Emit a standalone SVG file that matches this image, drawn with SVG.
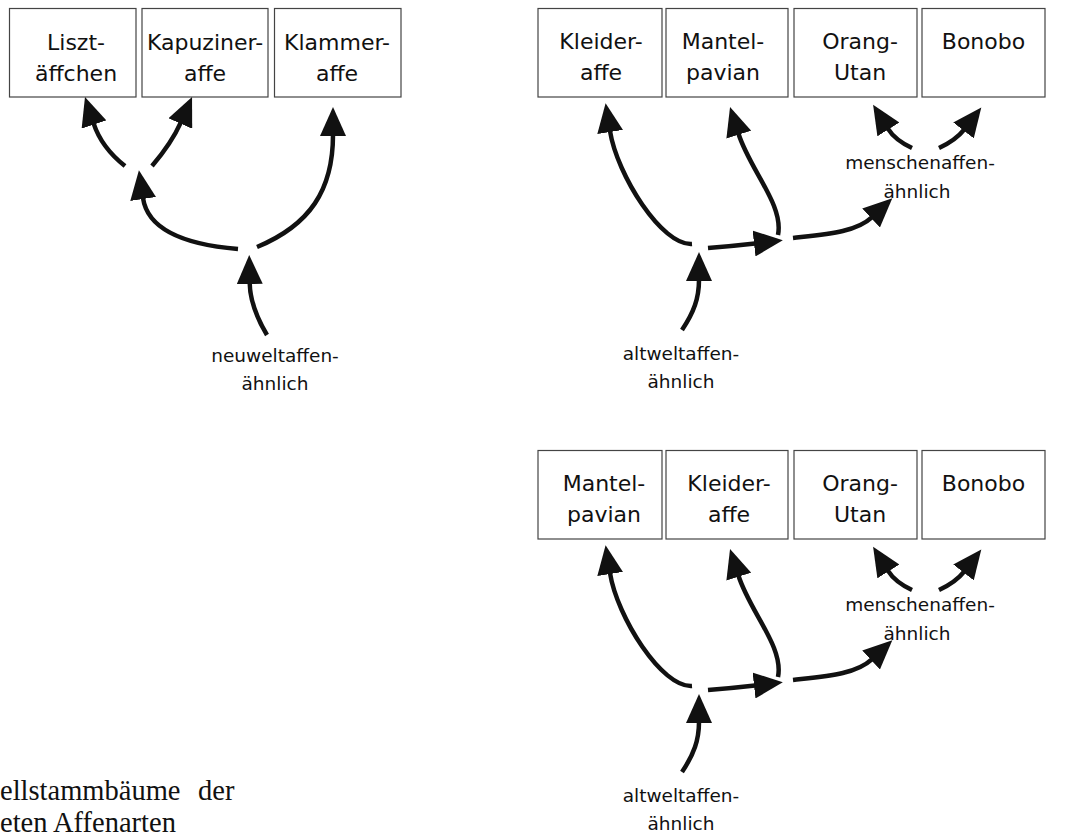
<svg xmlns="http://www.w3.org/2000/svg" width="1068" height="837" viewBox="0 0 1068 837">
<style>
.box{fill:#fff;stroke:#444;stroke-width:1.2}
.nt{font-family:"Comic Sans MS","DejaVu Sans",sans-serif;font-size:22px;fill:#111;text-anchor:middle}
.lb{font-family:"Comic Sans MS","DejaVu Sans",sans-serif;font-size:18.5px;fill:#111;text-anchor:middle}
.cap{font-family:"Liberation Serif","Times New Roman",serif;font-size:28.5px;fill:#111}
.cn{fill:none;stroke:#111;stroke-width:4.5;marker-end:url(#ah)}
</style>
<defs>
<marker id="ah" markerUnits="userSpaceOnUse" markerWidth="30" markerHeight="26" viewBox="0 0 30 26" refX="1" refY="13" orient="auto">
<path d="M0,0 L29,13 L0,26 z" fill="#111"/>
</marker>
</defs>
<rect width="1068" height="837" fill="#fff"/>

<!-- Tree 1: Neuweltaffen -->
<g id="n_liszt"><rect class="box" x="9.5" y="8.5" width="126.5" height="88.5"/><text class="nt" x="76" y="50">Liszt-</text><text class="nt" x="76" y="81">äffchen</text></g>
<g id="n_kapuziner"><rect class="box" x="142" y="8.5" width="126" height="88.5"/><text class="nt" x="205" y="50">Kapuziner-</text><text class="nt" x="205" y="81">affe</text></g>
<g id="n_klammer"><rect class="box" x="274.5" y="8.5" width="126.5" height="88.5"/><text class="nt" x="337" y="50">Klammer-</text><text class="nt" x="337" y="81">affe</text></g>
<g id="l_neuwelt"><text class="lb" x="275" y="362">neuweltaffen-</text><text class="lb" x="275" y="390">ähnlich</text></g>

<!-- Tree 2 -->
<g id="n_kleider1"><rect class="box" x="538" y="8.5" width="124" height="88.5"/><text class="nt" x="601" y="49">Kleider-</text><text class="nt" x="601" y="80">affe</text></g>
<g id="n_mantel1"><rect class="box" x="666" y="8.5" width="122" height="88.5"/><text class="nt" x="723" y="49">Mantel-</text><text class="nt" x="723" y="80">pavian</text></g>
<g id="n_orang1"><rect class="box" x="794" y="8.5" width="123" height="88.5"/><text class="nt" x="860" y="49">Orang-</text><text class="nt" x="860" y="80">Utan</text></g>
<g id="n_bonobo1"><rect class="box" x="922" y="8.5" width="123" height="88.5"/><text class="nt" x="983.5" y="49">Bonobo</text></g>
<g id="l_menschen1"><text class="lb" x="920" y="169">menschenaffen-</text><text class="lb" x="917" y="198">ähnlich</text></g>
<g id="l_altwelt1"><text class="lb" x="681" y="360">altweltaffen-</text><text class="lb" x="681" y="388">ähnlich</text></g>

<!-- Tree 3 -->
<g id="n_mantel2"><rect class="box" x="538" y="450.5" width="124" height="88.5"/><text class="nt" x="604" y="491">Mantel-</text><text class="nt" x="604" y="522">pavian</text></g>
<g id="n_kleider2"><rect class="box" x="666" y="450.5" width="122" height="88.5"/><text class="nt" x="729" y="491">Kleider-</text><text class="nt" x="729" y="522">affe</text></g>
<g id="n_orang2"><rect class="box" x="794" y="450.5" width="123" height="88.5"/><text class="nt" x="860" y="491">Orang-</text><text class="nt" x="860" y="522">Utan</text></g>
<g id="n_bonobo2"><rect class="box" x="922" y="450.5" width="123" height="88.5"/><text class="nt" x="983.5" y="491">Bonobo</text></g>
<g id="l_menschen2"><text class="lb" x="920" y="611">menschenaffen-</text><text class="lb" x="917" y="640">ähnlich</text></g>
<g id="l_altwelt2"><text class="lb" x="681" y="802">altweltaffen-</text><text class="lb" x="681" y="830">ähnlich</text></g>

<!-- Caption -->
<g id="caption"><text class="cap" x="0" y="800">ellstammbäume<tspan x="198">der</tspan></text><text class="cap" x="0" y="832">eten Affenarten</text></g>

<g id="connectors">
<g id="c_tree1">
<path class="cn" d="M125,166 Q101.5,147.4 93.7,123.6"/>
<path class="cn" d="M152,166 Q171.8,142.7 180.7,122.6"/>
<path class="cn" d="M257,247 C310,225 333,190 333,135"/>
<path class="cn" d="M238,249 C190,245 148,232 143,198"/>
<path class="cn" d="M267,335 C255,315 250,300 249.7,283"/>
</g>
<g id="c_tree2">
<path class="cn" d="M692,244 C662,246 617,175 610,131"/>
<path class="cn" d="M778,235 C784,205 750,170 738.5,133.7"/>
<path class="cn" d="M708,248 Q732,246 755,243.4"/>
<path class="cn" d="M793,238 C828,234 856,232 871.8,217.3"/>
<path class="cn" d="M912,148 Q895,140 887.9,128.6"/>
<path class="cn" d="M939,148 Q956,140 964.1,129.6"/>
<path class="cn" d="M682,330 C694,312 699,298 699,280"/>
</g>
<g id="c_tree3" transform="translate(0,442)">
<path class="cn" d="M692,244 C662,246 617,175 610,131"/>
<path class="cn" d="M778,235 C784,205 750,170 738.5,133.7"/>
<path class="cn" d="M708,248 Q732,246 755,243.4"/>
<path class="cn" d="M793,238 C828,234 856,232 871.8,217.3"/>
<path class="cn" d="M912,148 Q895,140 887.9,128.6"/>
<path class="cn" d="M939,148 Q956,140 964.1,129.6"/>
<path class="cn" d="M682,330 C694,312 699,298 699,280"/>
</g>
</g>
</svg>
